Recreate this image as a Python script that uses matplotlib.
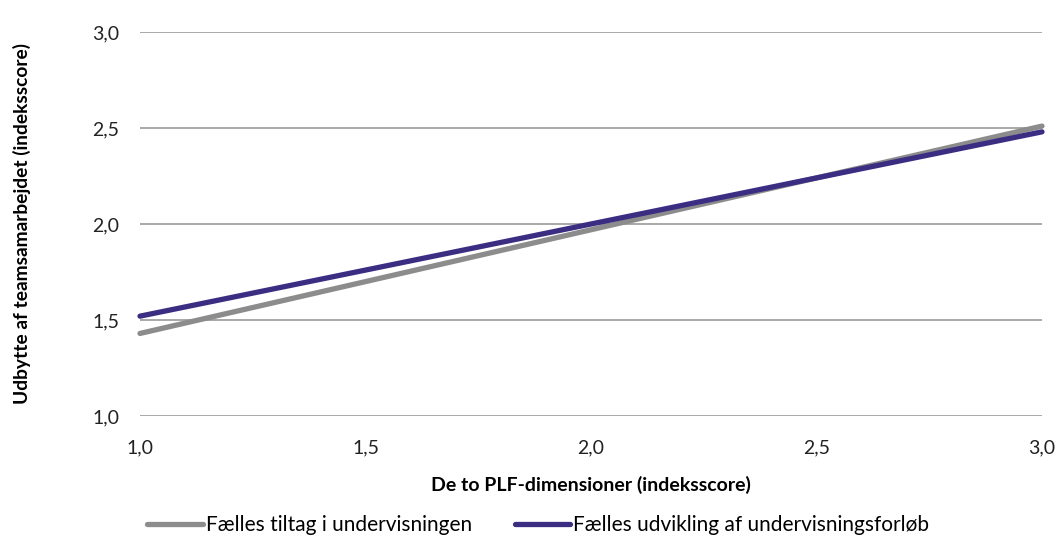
import matplotlib
matplotlib.use("Agg")
import matplotlib.pyplot as plt
from matplotlib.ticker import FuncFormatter

plt.rcParams['font.family'] = ['Lato', 'DejaVu Sans']

# Predicted values at the two ends of the index range
x_vals = [1.0, 3.0]
tiltag = [1.43, 2.51]
forloeb = [1.52, 2.48]
series_names = ["Fælles tiltag i undervisningen", "Fælles udvikling af undervisningsforløb"]
ticks = [1.0, 1.5, 2.0, 2.5, 3.0]

fig = plt.figure(figsize=(10.56, 5.40), dpi=100)
ax = fig.add_axes([140/1056, 1 - 416/540, (1042-140)/1056, (416-32)/540])

ax.plot(x_vals, tiltag, color="#8c8c8c", lw=3.8, solid_capstyle="round", label=series_names[0], zorder=3)
ax.plot(x_vals, forloeb, color="#3b2e82", lw=3.8, solid_capstyle="round", label=series_names[1], zorder=4)

ax.set_xlim(1.0, 3.0)
ax.set_ylim(1.0, 3.0)
ax.set_xticks(ticks)
ax.set_yticks(ticks)
fmt = FuncFormatter(lambda v, p: f"{v:.1f}".replace(".", ","))
ax.xaxis.set_major_formatter(fmt)
ax.yaxis.set_major_formatter(fmt)
ax.tick_params(length=0, labelsize=14, colors="#222222")
ax.tick_params(axis="y", pad=15)
ax.tick_params(axis="x", pad=17)
ax.grid(axis="y", color="#999999", lw=1.2, zorder=1)
for s in ax.spines.values():
    s.set_visible(False)
for line in ax.lines:
    line.set_clip_on(False)

ax.set_xlabel("De to PLF-dimensioner (indeksscore)", fontsize=14, fontweight="bold", labelpad=14)
ax.set_ylabel("Udbytte af teamsamarbejdet (indeksscore)", fontsize=13.8, fontweight="bold", labelpad=44)

fig.legend(loc="lower left", bbox_to_anchor=(138/1056, -0.008), ncol=2, frameon=False,
           fontsize=15, handlelength=2.65, handletextpad=0.15, columnspacing=2.05,
           borderaxespad=0.05)

fig.savefig("out.png", dpi=100)
